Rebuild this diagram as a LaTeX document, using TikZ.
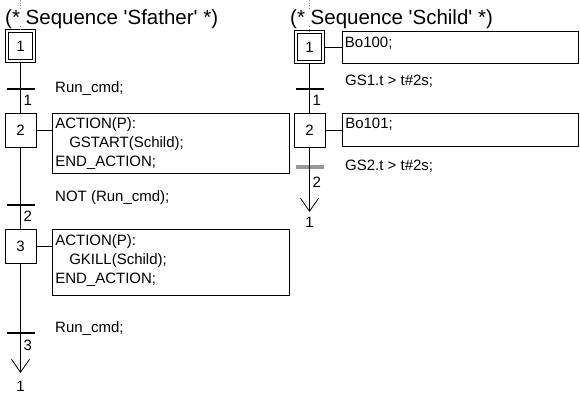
\documentclass[tikz,border=0pt]{standalone}
\usepackage{fontspec}
\setmainfont{Liberation Sans}
\usepackage{tikz}
\usetikzlibrary{arrows.meta,positioning}
\newcommand{\sfcfont}{\fontsize{15}{19}\selectfont}
\newcommand{\sfctitle}{\fontsize{20.5}{24}\selectfont}
\tikzset{
  stepbox/.style={rectangle, draw=black, line width=0.8pt,
                  minimum width=31pt, minimum height=34pt,
                  inner sep=0pt, font=\sfcfont},
  initbox/.style={stepbox, double, double distance=2.4pt, line width=0.6pt,
                  minimum width=27.5pt, minimum height=30.5pt},
  actbox/.style={rectangle, draw=black, line width=0.8pt, anchor=north west,
                 align=left, text width=#1, inner xsep=2.5pt, inner ysep=0pt,
                 text height=16pt, font=\sfcfont},
  tbar/.style={rectangle, fill=black, minimum width=28pt,
               minimum height=2.2pt, inner sep=0pt},
  gbar/.style={tbar, fill=black!40, minimum height=3.4pt},
  cond/.style={anchor=base west, inner sep=0pt, font=\sfcfont},
  num/.style={inner sep=0pt, font=\sfcfont},
  seqtitle/.style={anchor=base west, inner sep=0pt, fill=white,
                   text depth=0pt, font=\sfctitle},
  link/.style={line width=0.8pt, draw=black},
  entry/.style={line width=0.6pt, draw=black!45, dotted},
  arr/.style={link, -{Straight Barb[length=13pt, width=18pt]}},
}

\begin{document}
\begin{tikzpicture}[x=1pt, y=-1pt]
  \useasboundingbox (0,0) rectangle (580,398);

  % sequence Sfather
  \coordinate (f0) at (20.5,0);
  \coordinate (fe) at (20.5,373);
  \node[initbox] (s1) at (20.5,46) {1};
  \draw[entry] (f0) -- (s1.north);
  \node[seqtitle] (hf) at (5,25) {(* Sequence \textquotesingle Sfather\textquotesingle{} *)};
  \node[tbar] (t1) at (20.5,89) {};
  \node[stepbox] (s2) at (20.5,130) {2};
  \node[tbar] (t2) at (20.5,205) {};
  \node[stepbox] (s3) at (20.5,246) {3};
  \node[tbar] (t3) at (20.5,333) {};
  \node[num, below=8pt of fe] (fj) {1};

  \node[actbox=232pt, text depth=44pt, right=16pt of s2.north east, anchor=north west] (a2)
    {ACTION(P):\\\hspace*{14pt}GSTART(Schild);\\END\_ACTION;};
  \node[actbox=232pt, text depth=50pt, right=16pt of s3.north east, anchor=north west] (a3)
    {ACTION(P):\\\hspace*{14pt}GKILL(Schild);\\END\_ACTION;};

  % transition conditions and numbers
  \node[cond] (k1) at (55,92.5) {Run\_cmd;};
  \node[cond] (k2) at (55,201) {NOT (Run\_cmd);};
  \node[cond] (k3) at (55,332) {Run\_cmd;};
  \node[num, anchor=north west] (n1) at ([shift={(3,6)}]t1.center) {1};
  \node[num, anchor=north west] (n2) at ([shift={(3,6)}]t2.center) {2};
  \node[num, anchor=north west] (n3) at ([shift={(3,7)}]t3.center) {3};

  % flow lines
  \draw[link] (s1.south) -- (s2.north);
  \draw[link] (s2.south) -- (s3.north);
  \draw[arr] (s3.south) -- (fe);
  \draw[link] (s2.east) -- (s2.east -| a2.west);
  \draw[link] (s3.east) -- (s3.east -| a3.west);

  % sequence Schild
  \coordinate (g0) at (309.5,0);
  \coordinate (ge) at (309.5,212);
  \node[initbox] (c1) at (309.5,47) {1};
  \draw[entry] (g0) -- (c1.north);
  \node[seqtitle] (hc) at (290,25) {(* Sequence \textquotesingle Schild\textquotesingle{} *)};
  \node[tbar] (u1) at (309.5,89) {};
  \node[stepbox] (c2) at (309.5,130) {2};
  \node[gbar] (u2) at (309.5,167) {};
  \node[num, below=5pt of ge] (gj) {1};

  \node[actbox=231pt, text depth=16pt, right=18.5pt of c1.north east, anchor=north west] (b1) {Bo100;};
  \node[actbox=231pt, text depth=17pt, right=17pt of c2.north east, anchor=north west] (b2) {Bo101;};

  \node[cond] (k4) at (345,85.5) {GS1.t > t\#2s;};
  \node[cond] (k5) at (345,170.5) {GS2.t > t\#2s;};
  \node[num, anchor=north west] (m1) at ([shift={(3,6)}]u1.center) {1};
  \node[num, anchor=north west] (m2) at ([shift={(3,9.5)}]u2.center) {2};

  \draw[link] (c1.south) -- (c2.north);
  \draw[arr] (c2.south) -- (ge);
  \draw[link] (c1.east) -- (c1.east -| b1.west);
  \draw[link] (c2.east) -- (c2.east -| b2.west);
\end{tikzpicture}
\end{document}
